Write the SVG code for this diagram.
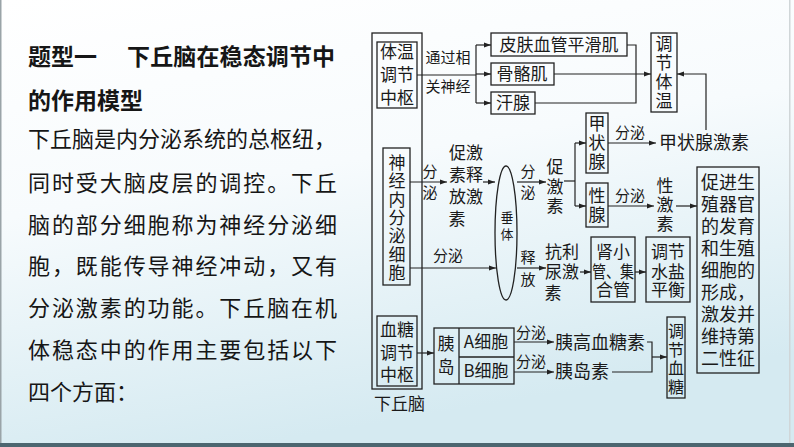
<svg xmlns="http://www.w3.org/2000/svg" width="794" height="447" viewBox="0 0 794 447">
<defs>
<linearGradient id="bg" x1="0" y1="0" x2="0.3" y2="1">
<stop offset="0" stop-color="#ffffff"/>
<stop offset="0.45" stop-color="#f7fbfd"/>
<stop offset="1" stop-color="#d5eaf1"/>
</linearGradient>
<marker id="ah" markerUnits="userSpaceOnUse" markerWidth="8" markerHeight="6" refX="7" refY="3" orient="auto">
<path d="M0,0.6 L7,3 L0,5.4 Z" fill="#222"/>
</marker>
<style>
.t{font-family:"Noto Sans CJK SC","Noto Sans CJK JP",sans-serif;font-size:17px;fill:#1a1a1a;text-anchor:middle}
.s{font-size:15px}
.l{text-anchor:start}
.b{fill:none;stroke:#222;stroke-width:1.3}
.c{fill:none;stroke:#222;stroke-width:1.2}
.a{marker-end:url(#ah)}
.body{font-family:"Noto Sans CJK SC",sans-serif;font-size:22px;fill:#161616}
.title{font-family:"Noto Sans CJK SC",sans-serif;font-size:23px;font-weight:bold;fill:#161616}
</style>
</defs>
<rect width="794" height="447" fill="url(#bg)"/>
<rect x="0" y="0" width="1.5" height="447" fill="#9aa4a8"/>
<rect x="789" y="0" width="1.5" height="447" fill="#d0d6d8"/>
<rect x="0" y="443" width="794" height="4" fill="#4d6670"/>

<g id="intro">
<text class="title" x="28" y="65">题型一</text>
<text class="title" x="127" y="65" textLength="208" lengthAdjust="spacing">下丘脑在稳态调节中</text>
<text class="title" x="28" y="109">的作用模型</text>
<text class="body" x="28" y="147" textLength="308" lengthAdjust="spacing">下丘脑是内分泌系统的总枢纽，</text>
<text class="body" x="28" y="191" textLength="309" lengthAdjust="spacing">同时受大脑皮层的调控。下丘</text>
<text class="body" x="28" y="233" textLength="309" lengthAdjust="spacing">脑的部分细胞称为神经分泌细</text>
<text class="body" x="28" y="274" textLength="309" lengthAdjust="spacing">胞，既能传导神经冲动，又有</text>
<text class="body" x="28" y="316" textLength="309" lengthAdjust="spacing">分泌激素的功能。下丘脑在机</text>
<text class="body" x="28" y="358" textLength="309" lengthAdjust="spacing">体稳态中的作用主要包括以下</text>
<text class="body" x="28" y="400">四个方面：</text>
</g>

<g id="hypothalamus">
<rect class="b" x="372" y="33" width="50" height="356"/>
<text class="t l" x="374" y="410">下丘脑</text>
</g>

<g id="temp-center">
<rect class="b" x="377" y="42" width="40" height="66"/>
<text class="t" x="397" y="58">体温<tspan x="397" dy="23">调节</tspan><tspan x="397" dy="23">中枢</tspan></text>
</g>

<g id="skin-vessel">
<rect class="b" x="491" y="33" width="136" height="23"/>
<text class="t" x="559" y="51">皮肤血管平滑肌</text>
</g>
<g id="skeletal">
<rect class="b" x="491" y="63" width="63" height="22"/>
<text class="t" x="522" y="80">骨骼肌</text>
</g>
<g id="sweat">
<rect class="b" x="491" y="92" width="44" height="22"/>
<text class="t" x="513" y="109">汗腺</text>
</g>
<g id="regulate-temp">
<rect class="b" x="651" y="33" width="26" height="79"/>
<text class="t" x="664" y="50">调<tspan x="664" dy="19">节</tspan><tspan x="664" dy="19">体</tspan><tspan x="664" dy="19">温</tspan></text>
</g>

<g id="neuro-cell">
<rect class="b" x="383" y="148" width="27" height="137"/>
<text class="t" x="397" y="169">神<tspan x="397" dy="18.3">经</tspan><tspan x="397" dy="18.3">内</tspan><tspan x="397" dy="18.3">分</tspan><tspan x="397" dy="18.3">泌</tspan><tspan x="397" dy="18.3">细</tspan><tspan x="397" dy="18.3">胞</tspan></text>
</g>

<g id="trh">
<text class="t" x="466" y="159">促激<tspan x="466" dy="22">素释</tspan><tspan x="466" dy="22">放激</tspan><tspan x="457" dy="22">素</tspan></text>
</g>

<g id="pituitary">
<ellipse class="b" cx="506" cy="233" rx="11" ry="67"/>
<text class="t" x="507" y="222" style="font-size:13px">垂<tspan x="507" dy="17">体</tspan></text>
</g>

<g id="tropic">
<text class="t" x="555" y="173">促<tspan x="555" dy="19.5">激</tspan><tspan x="555" dy="19.5">素</tspan></text>
</g>

<g id="thyroid">
<rect class="b" x="586" y="113" width="22" height="60"/>
<text class="t" x="597" y="130">甲<tspan x="597" dy="19">状</tspan><tspan x="597" dy="19">腺</tspan></text>
</g>
<g id="thyroxine">
<text class="t l" x="659" y="149" style="font-size:18px">甲状腺激素</text>
</g>

<g id="gonad">
<rect class="b" x="586" y="183" width="22" height="44"/>
<text class="t" x="597" y="202">性<tspan x="597" dy="19">腺</tspan></text>
</g>
<g id="sex-hormone">
<text class="t" x="665" y="192">性<tspan x="665" dy="19">激</tspan><tspan x="665" dy="19">素</tspan></text>
</g>

<g id="reproduction">
<rect class="b" x="697" y="167" width="62" height="206"/>
<text class="t" x="728" y="189" style="font-size:18px">促进生<tspan x="728" dy="22">殖器官</tspan><tspan x="728" dy="22">的发育</tspan><tspan x="728" dy="22">和生殖</tspan><tspan x="728" dy="22">细胞的</tspan><tspan x="728" dy="22">形成，</tspan><tspan x="728" dy="22">激发并</tspan><tspan x="728" dy="22">维持第</tspan><tspan x="728" dy="22">二性征</tspan></text>
</g>

<g id="adh">
<text class="t" x="562" y="258">抗利<tspan x="562" dy="20">尿激</tspan><tspan x="553" dy="21">素</tspan></text>
</g>

<g id="kidney">
<rect class="b" x="591" y="237" width="44" height="65"/>
<text class="t" x="613" y="258">肾小</text>
<text class="t" x="613" y="278" textLength="42" lengthAdjust="spacingAndGlyphs">管、集</text>
<text class="t" x="613" y="296">合管</text>
</g>

<g id="water-salt">
<rect class="b" x="646" y="237" width="44" height="65"/>
<text class="t" x="668" y="258">调节<tspan x="668" dy="20">水盐</tspan><tspan x="668" dy="18">平衡</tspan></text>
</g>

<g id="glucose-center">
<rect class="b" x="377" y="316" width="40" height="70"/>
<text class="t" x="397" y="336">血糖<tspan x="397" dy="22.5">调节</tspan><tspan x="397" dy="22.5">中枢</tspan></text>
</g>

<g id="islet">
<rect class="b" x="434" y="328" width="80" height="56"/>
<line class="b" x1="459" y1="328" x2="459" y2="384"/>
<line class="b" x1="459" y1="357" x2="514" y2="357"/>
<text class="t" x="446" y="350">胰<tspan x="446" dy="23">岛</tspan></text>
<text class="t" x="486" y="348">A细胞<tspan x="486" dy="29">B细胞</tspan></text>
</g>

<g id="glucagon">
<text class="t l" x="555" y="349" style="font-size:18px">胰高血糖素</text>
</g>
<g id="insulin">
<text class="t l" x="555" y="378" style="font-size:18px">胰岛素</text>
</g>

<g id="regulate-glucose">
<rect class="b" x="667" y="317" width="18" height="81"/>
<text class="t" x="676" y="337" style="font-size:16px">调<tspan x="676" dy="18.5">节</tspan><tspan x="676" dy="18.5">血</tspan><tspan x="676" dy="18.5">糖</tspan></text>
</g>

<g id="connectors">
<line class="c" x1="417" y1="75" x2="476" y2="75"/>
<line class="c" x1="476" y1="45" x2="476" y2="103"/>
<line class="c a" x1="476" y1="45" x2="491" y2="45"/>
<line class="c a" x1="476" y1="74" x2="491" y2="74"/>
<line class="c a" x1="476" y1="103" x2="491" y2="103"/>
<text class="t s" x="448" y="63">通过相<tspan x="448" dy="29">关神经</tspan></text>
<polyline class="c" points="627,45 636,45 636,103 535,103"/>
<line class="c a" x1="554" y1="74" x2="651" y2="74"/>
<polyline class="c a" points="706,130 706,74 677,74"/>

<line class="c a" x1="410" y1="182" x2="447" y2="182"/>
<text class="t s" x="430" y="177">分<tspan x="430" dy="21">泌</tspan></text>
<line class="c a" x1="483" y1="182" x2="495" y2="182"/>
<line class="c a" x1="517" y1="182" x2="546" y2="182"/>
<text class="t s" x="528" y="177">分<tspan x="528" dy="21">泌</tspan></text>
<line class="c" x1="564" y1="181" x2="575" y2="181"/>
<line class="c" x1="575" y1="143" x2="575" y2="206"/>
<line class="c a" x1="575" y1="143" x2="586" y2="143"/>
<line class="c a" x1="575" y1="206" x2="586" y2="206"/>
<line class="c a" x1="608" y1="143" x2="656" y2="143"/>
<text class="t s" x="630" y="138">分泌</text>
<line class="c a" x1="608" y1="206" x2="654" y2="206"/>
<text class="t s" x="630" y="201">分泌</text>
<line class="c a" x1="676" y1="206" x2="697" y2="206"/>

<line class="c a" x1="410" y1="268" x2="496" y2="268"/>
<text class="t s" x="448" y="261">分泌</text>
<line class="c a" x1="517" y1="268" x2="546" y2="268"/>
<text class="t s" x="528" y="263">释<tspan x="528" dy="22">放</tspan></text>
<line class="c a" x1="580" y1="272" x2="591" y2="272"/>
<line class="c a" x1="635" y1="272" x2="646" y2="272"/>

<line class="c a" x1="417" y1="353" x2="434" y2="353"/>
<line class="c a" x1="514" y1="342" x2="554" y2="342"/>
<text class="t s" x="531" y="338">分泌</text>
<line class="c a" x1="514" y1="372" x2="554" y2="372"/>
<text class="t s" x="531" y="367">分泌</text>
<polyline class="c" points="647,342 652,342 652,372 612,372"/>
<line class="c a" x1="652" y1="357" x2="667" y2="357"/>
</g>
</svg>
